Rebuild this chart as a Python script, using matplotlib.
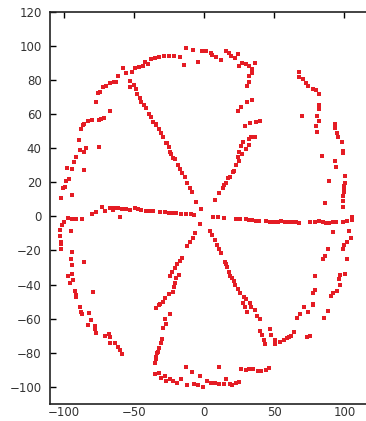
import matplotlib
matplotlib.use("Agg")
import matplotlib.pyplot as plt

# points, grouped roughly by the part of the figure they belong to
top_ring = [(-13.2, 98.5), (-8, 97.5), (-1.3, 97.1), (-4.4, 90.3), (-14.6, 88.7), (-17.5, 93.7),
            (-21.8, 94.1), (-25.1, 94.1), (-28.7, 93.9), (-32.3, 93.7), (-35.1, 92.6), (-37.7, 92.3),
            (-39.9, 89.1), (-42.5, 90.7), (-43.7, 88.2), (-46.5, 87.4), (-49.6, 87.2), (-51.3, 84.8),
            (-58, 87.2), (-55.6, 84.2), (-61.5, 82.3), (-62.7, 79), (-64.4, 78.6), (-67.5, 78),
            (-70.4, 76.4), (-72.3, 75.6), (-74.6, 73.1), (-75.6, 72.5), (-77.5, 67), (-67.5, 61.8),
            (-71.5, 57.9), (-73.5, 56.9), (-75.1, 56.5), (-79.9, 56.5), (-83, 55.9), (-85.4, 54.1),
            (1.1, 96.7), (4.6, 96), (5.8, 94.4), (8.7, 93.6), (12.3, 91.7), (15.8, 96.8), (17.7, 95.6),
            (19.4, 94.2), (21.8, 92.6), (24.2, 95.2), (24.9, 88.2), (27.3, 90.1), (29.6, 89.3),
            (32, 88.2), (34.4, 86.6), (36.1, 89.7), (34.4, 83.9), (32, 82.3), (32, 79), (30.8, 76.4),
            (34.4, 68.2), (30.6, 67), (26.5, 64.3), (24.2, 61.8), (32.5, 54.5), (36.8, 55.5), (40.1, 56.1),
            (28.9, 53)]

right_ring = [(67.5, 84.4), (67.5, 81.5), (70.6, 80.7), (72.5, 78.4), (74.2, 76.4), (77.3, 74.9),
              (79.4, 74.1), (81.8, 71.5), (81.8, 65.3), (82, 62.8), (80.1, 58.8), (81.6, 56.1),
              (69.4, 59), (93.2, 53.9), (79.6, 53), (80.6, 49.6), (93.2, 51.6), (94.4, 49.1),
              (95.6, 46.3), (98, 43.4), (98.7, 38.5), (98.7, 37), (84.2, 35.4), (93.2, 32.4),
              (93.9, 29.1), (100.4, 23.6), (88.9, 20.9), (100.4, 19.7), (99.6, 17.9), (99.6, 15.8),
              (99.6, 14.5), (99.2, 11.9), (98.7, 9.2), (86.1, 7.6), (98.7, 5.3),
              (92, -9), (103.5, -8.4), (104.4, -12.9), (101.6, -14.9), (99.7, -16.8), (98.7, -19.4),
              (88.5, -19.4), (86.1, -23.3), (84.9, -25.2), (101.6, -24.7), (78.9, -34.8), (96.8, -34.4),
              (100.4, -33.5), (96.4, -37), (96.8, -40.3), (78.9, -43.2), (77.3, -44.8), (94.9, -43.8),
              (92, -44.8), (90.1, -46.7), (77.3, -51.4),
              (66.3, -59.3), (68.2, -57.3), (71.1, -53), (73.7, -56.1), (77.3, -52), (73, -70.6),
              (75.8, -70.2), (85.4, -59.3), (88.5, -55.4)]

left_ring = [(-86.5, 53.6), (-87.7, 51), (-88.9, 38.9), (-89.4, 44.8), (-91.3, 35), (-93.2, 32),
             (-94.2, 27.7), (-96.1, 21.7), (-98, 28.1), (-98.5, 20.7), (-99.6, 17.4), (-100.8, 16.4),
             (-102.5, 10.5), (-94.2, 12.5), (-86.1, 37.9), (-84.6, 39.9), (-85.4, 27.2), (-75.4, 40.8),
             (-97.3, -1.2), (-94.2, -1.8), (-91.3, -1.8), (-87.3, -1.8), (-100.1, -3.1), (-101.3, -5.1),
             (-102.7, -8), (-102.7, -11.4), (-102.5, -14.9), (-102, -16.4), (-102.5, -19.4),
             (-94.9, -8.4), (-94.2, -21.1), (-94.9, -25.2), (-94.4, -28.6), (-86.1, -27), (-94.2, -33.5),
             (-97.3, -34.8), (-93.8, -37.4), (-95.4, -39.3), (-92.5, -43.6), (-91.8, -46.2),
             (-91.8, -47.2), (-79.4, -44.6),
             (-88.5, -53.4), (-87.7, -55.9), (-87, -57.3), (-82.3, -56.9), (-80.6, -60.8), (-83, -63.8),
             (-78.2, -64.1), (-77.7, -66.3), (-77, -68.3), (-71.1, -70), (-68, -69.2), (-67.1, -70.6),
             (-67.1, -74.5), (-63.5, -74.5), (-61.6, -76.5), (-60, -78.4), (-58.5, -80.4)]

bottom_ring = [(-35.4, -92.5), (-32.5, -92.1), (-30.6, -95), (-28.2, -93.5), (-27, -96.4),
               (-24.2, -95.4), (-22.3, -96.4), (-19.4, -97.4), (-16.8, -95.4), (-13.2, -88.6),
               (-12, -99), (-8.5, -91.1), (-7.5, -98.4), (-4.4, -99), (-2.7, -93.5), (-0.8, -100),
               (2, -96.4), (5.1, -97.4), (7.5, -97.6), (10.6, -88.2), (10.6, -98.4), (13.9, -98.4),
               (15.8, -95.4), (18.2, -98), (20.1, -99), (22.5, -97.6), (24.9, -97), (26.5, -89.6),
               (29.6, -89.8), (32, -89.6), (34.9, -89.6), (38.5, -90.5), (40.8, -90.5), (43.9, -89.8),
               (46.3, -88.8)]

# spoke from upper left down to lower right
spoke_a = [(-53.2, 79.4), (-50.4, 77), (-53.2, 75.6), (-48.9, 74.4), (-47.7, 71.7), (-46.1, 69.2),
           (-44.9, 67.2), (-43.2, 65.3), (-41.3, 63.7), (-39.4, 60), (-37.7, 58), (-36.5, 55.5),
           (-34.6, 54.1), (-34.2, 53.6), (-32.3, 51), (-30.6, 48.7), (-29.4, 46.3), (-27.5, 43.2),
           (-26.5, 42.8), (-25.1, 40.8), (-24.2, 37.9), (-23.5, 36.5), (-22.3, 34), (-21.1, 33.4),
           (-18.7, 30.1), (-17.5, 27.5), (-15.6, 25.2), (-13.9, 22.9), (-12, 19.4), (-10.4, 16.4),
           (-8.5, 14), (-5.6, 8.6), (-2, 4.1),
           (4.4, -8.4), (5.8, -11), (7.5, -13.9), (9.2, -16.8), (10.6, -19.4), (12.3, -21.7),
           (14.6, -26.6), (15.8, -28), (16.3, -29.9), (17.7, -32.5), (18.7, -35), (20.1, -36.4),
           (21.1, -37.8), (21.8, -40.3), (24.2, -42.8), (25.8, -45.2), (28.2, -47.5), (29.6, -48.7),
           (27.7, -50.7), (32.5, -50.7), (29.4, -53.4), (33.7, -53), (36.5, -55), (30.8, -56.3),
           (37.7, -58.3), (40.1, -60), (39.6, -67.1), (46.8, -65.9), (41.5, -69.6), (47.5, -69.8),
           (42.8, -72.2), (50.4, -72.2), (43.7, -74.9), (50.8, -74.9), (54.4, -73.9), (56.8, -72.2),
           (58.7, -71.6), (60.6, -70.6), (61.8, -70), (64.2, -68)]

# spoke from upper right down to lower left
spoke_b = [(36.1, 46.3), (33.7, 46.3), (32, 45.2), (32, 41.8), (27.7, 43.8), (26.5, 41.3),
           (29.6, 39.3), (24.9, 37.9), (27.3, 36.5), (24.2, 35), (24.9, 32.6), (22.5, 30.1),
           (21.1, 26.8), (20.6, 25.8), (18.2, 23.3), (17, 22.3), (15.4, 19.4), (14, 18.3),
           (13.5, 16.8), (10.6, 13.9), (7.5, 9.6),
           (-3.2, -4.7), (-6.3, -10), (-8, -12.9), (-10.4, -15.3), (-12.3, -17.4), (-15.6, -24.3),
           (-17.5, -26), (-19.4, -28.2), (-21.1, -30.5), (-22.7, -32.5), (-18, -34.4), (-24.6, -35),
           (-19.9, -36.4), (-21.1, -38.9), (-21.8, -41.7), (-22.3, -44.2), (-24.8, -45.6),
           (-27.7, -48.1), (-29.4, -50.1), (-31.8, -51.6),
           (-32.3, -52), (-34.2, -54), (-24.6, -57.5), (-28.2, -60.2), (-27, -63.3), (-29.4, -65.3),
           (-30.1, -71.9), (-31.1, -74.5), (-32.3, -76.9), (-33, -79.4), (-33.5, -80), (-34.2, -82.7),
           (-34.6, -83.7), (-35.4, -86.2)]

# horizontal spoke
spoke_h = [(-72.7, 5.3), (-71.1, 3.3), (-77, 2.7), (-79.9, 1.3), (-67.5, 5.1), (-65.1, 3.7),
           (-64, 4.7), (-61.5, 4.7), (-58.5, 4.1), (-55.6, 4.1), (-53.2, 3.7), (-49.6, 4.7),
           (-47.3, 4.1), (-44.9, 3.7), (-41.8, 3.3), (-38.9, 3.3), (-36.5, 3.3), (-31.8, 2.7),
           (-28.2, 2.3), (-25.1, 2.1), (-22.3, 2.1), (-19.9, 1.7), (-16.3, 1.3), (-12.7, 1.3),
           (-9.2, 1.3), (-7.5, 0.7), (-60.4, -0.6),
           (6.3, -0.2), (9.9, -0.6), (13.9, -0.8), (22.5, -1.6), (25.8, -1.8), (30.1, -1.8),
           (32, -2.2), (34.2, -2.2), (36.8, -2.6), (39.2, -2.6), (44, -2.6), (46.8, -3.1),
           (49.6, -3.1), (52.7, -3.1), (55.1, -2.6), (57.5, -3.1), (59.9, -3.5), (62.3, -3.1),
           (65.3, -3.5), (67.7, -4.1), (75.8, -3.5), (78.9, -3.1), (82, -2.6), (84.5, -3.1),
           (86.8, -3.7), (89.1, -4.1), (92.1, -3.5), (93.9, -3.1), (98.7, -3.1), (101.6, -2.8),
           (105.1, -2.2), (105.1, -0.6)]

xticks = [-100, -50, 0, 50, 100]
yticks = [-100, -80, -60, -40, -20, 0, 20, 40, 60, 80, 100, 120]

pts = top_ring + right_ring + left_ring + bottom_ring + spoke_a + spoke_b + spoke_h
xs = [p[0] for p in pts]
ys = [p[1] for p in pts]

plt.rcParams['font.family'] = 'DejaVu Sans'
fig = plt.figure(figsize=(3.66, 4.21), dpi=100)
ax = fig.add_axes([0.1366, 0.0404, 0.8634, 0.9318])

ax.plot(xs, ys, linestyle='none', marker='s', ms=2.3, mew=0, color='#e41c24')

ax.set_xlim(-110, 115.4)
ax.set_ylim(-110, 120)
ax.set_xticks(xticks)
ax.set_yticks(yticks)
ax.spines['right'].set_visible(False)
for s in ['left', 'top', 'bottom']:
    ax.spines[s].set_linewidth(1.2)
    ax.spines[s].set_color('#222222')
ax.tick_params(axis='x', direction='in', top=True, bottom=True, length=4, width=1,
               labelsize=8.5, labelcolor='#333333', pad=1.5)
ax.tick_params(axis='x', which='major', bottom=False)
ax.tick_params(axis='y', direction='in', left=True, right=False, length=4, width=1,
               labelsize=8.5, labelcolor='#333333', pad=6)

fig.savefig('out.png', dpi=100)
